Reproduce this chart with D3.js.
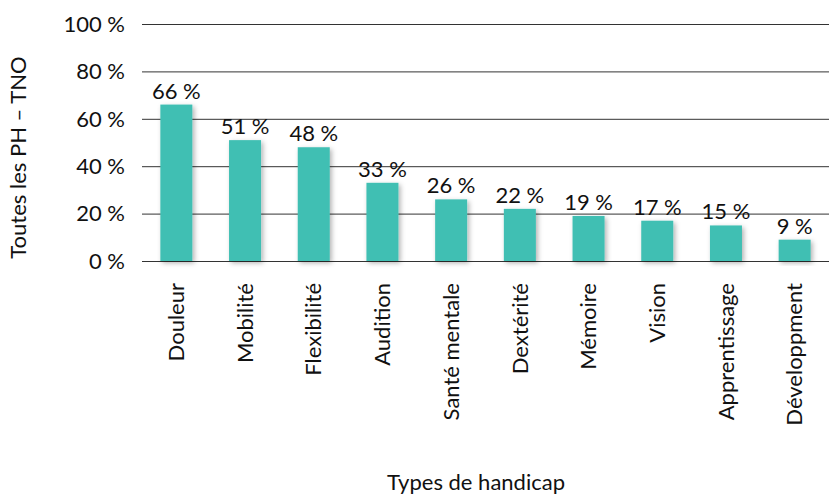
<!DOCTYPE html>
<html>
<head>
<meta charset="utf-8">
<script src="https://cdn.jsdelivr.net/npm/d3@7"></script>
<style>
  body { margin: 0; background: #fff; }
  svg { font-family: Lato, "Open Sans", sans-serif; }
</style>
</head>
<body>
<svg width="829" height="494"></svg>
<script>
// Data
var categories = ["Douleur", "Mobilité", "Flexibilité", "Audition", "Santé mentale",
                  "Dextérité", "Mémoire", "Vision", "Apprentissage", "Développment"];
var values = [66, 51, 48, 33, 26, 22, 19, 17, 15, 9];
var yTicks = [0, 20, 40, 60, 80, 100];

var svg = d3.select("svg"),
    width = +svg.attr("width"),
    height = +svg.attr("height");

// plot area
var plotLeft = 142, plotRight = 829, plotTop = 24, plotBottom = 261;
var fontSize = 22;

var x = d3.scaleBand()
    .domain(categories)
    .range([plotLeft, plotRight])
    .paddingInner(0.534)
    .paddingOuter(0.267);

var y = d3.scaleLinear()
    .domain([0, 100])
    .range([plotBottom, plotTop]);

// shadow for the bars
var defs = svg.append("defs");
var f = defs.append("filter").attr("id", "shadow")
    .attr("x", "-50%").attr("y", "-20%").attr("width", "200%").attr("height", "140%");
f.append("feDropShadow")
    .attr("dx", 2).attr("dy", 2).attr("stdDeviation", 2.5)
    .attr("flood-color", "#000").attr("flood-opacity", 0.3);

// grid lines
svg.append("g")
    .selectAll("line")
    .data(yTicks)
    .join("line")
        .attr("x1", plotLeft).attr("x2", plotRight)
        .attr("y1", d => y(d) + 0.5).attr("y2", d => y(d) + 0.5)
        .attr("stroke", "#333")
        .attr("stroke-width", 1);

// y tick labels
svg.append("g")
    .selectAll("text")
    .data(yTicks)
    .join("text")
        .attr("x", 125)
        .attr("y", d => y(d))
        .attr("dy", "0.35em")
        .attr("text-anchor", "end")
        .attr("font-size", fontSize)
        .attr("fill", "#111")
        .text(d => d + "\u202f%");

// bars
svg.append("g")
    .selectAll("rect")
    .data(values)
    .join("rect")
        .attr("x", (d, i) => x(categories[i]))
        .attr("y", d => y(d))
        .attr("width", x.bandwidth())
        .attr("height", d => y(0) - y(d))
        .attr("fill", "#40BFB3")
        .attr("filter", "url(#shadow)");

// value labels
svg.append("g")
    .selectAll("text")
    .data(values)
    .join("text")
        .attr("x", (d, i) => x(categories[i]) + x.bandwidth() / 2)
        .attr("y", d => y(d) - 6)
        .attr("text-anchor", "middle")
        .attr("font-size", fontSize)
        .attr("fill", "#111")
        .text(d => d + "\u202f%");

// category labels (rotated)
svg.append("g")
    .selectAll("text")
    .data(categories)
    .join("text")
        .attr("transform", d => "translate(" + (x(d) + x.bandwidth() / 2) + ",283) rotate(-90)")
        .attr("dy", "0.35em")
        .attr("text-anchor", "end")
        .attr("font-size", fontSize)
        .attr("fill", "#111")
        .text(d => d);

// axis titles
svg.append("text")
    .attr("transform", "translate(18," + ((plotTop + plotBottom) / 2 + 15) + ") rotate(-90)")
    .attr("dy", "0.35em")
    .attr("text-anchor", "middle")
    .attr("font-size", fontSize)
    .attr("fill", "#111")
    .text("Toutes les PH – TNO");

svg.append("text")
    .attr("x", 476)
    .attr("y", 490)
    .attr("text-anchor", "middle")
    .attr("font-size", fontSize)
    .attr("fill", "#111")
    .text("Types de handicap");
</script>
</body>
</html>
